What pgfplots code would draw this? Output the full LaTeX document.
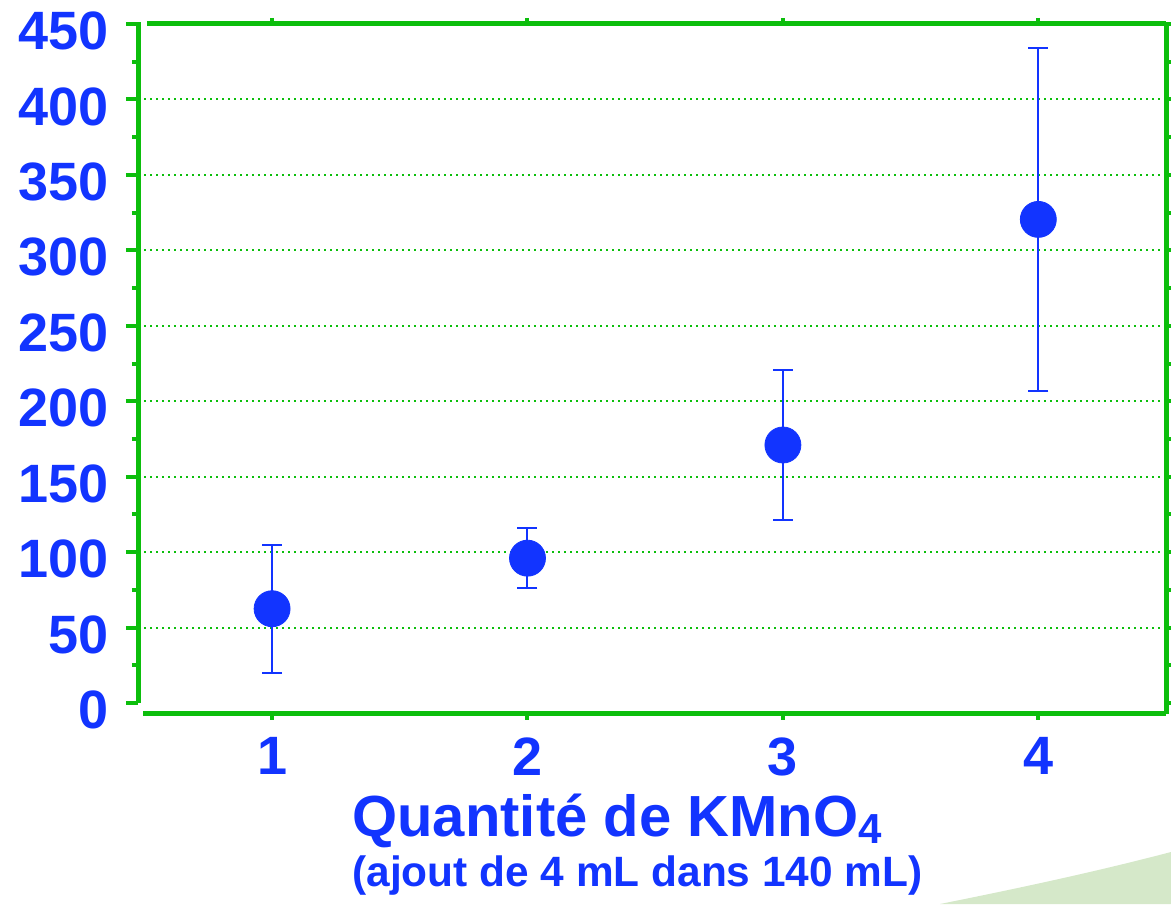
\documentclass[border=0pt]{standalone}
\usepackage{fontspec}
\setmainfont{Liberation Sans}
\usepackage{pgfplots}
\pgfplotsset{compat=1.18}
\usepackage{pgfplotstable}
\definecolor{mblue}{RGB}{18,52,255}
\definecolor{mgreen}{RGB}{12,190,12}
\definecolor{swoosh}{RGB}{213,232,201}
\pgfplotstableread{
x y e
1 62.5 42.5
2 96 20
3 171 49.5
4 320.5 113.5
}\datatable
\begin{document}
\begin{tikzpicture}
\useasboundingbox (0,0) rectangle (585.5pt,452pt);
\fill[swoosh] (470pt,0pt) .. controls (520pt,10pt) and (555pt,18pt) .. (585.5pt,26pt) -- (585.5pt,0pt) -- cycle;
\begin{axis}[
  at={(69pt,95.2pt)}, anchor=south west,
  scale only axis, width=514pt, height=344.8pt,
  xmin=0.475, xmax=4.5, ymin=-7, ymax=450,
  xtick={1,2,3,4}, ytick={0,50,...,450}, minor y tick num=1,
  tick align=outside, major tick length=6pt, minor tick length=3pt,
  xtick style={/pgfplots/major tick length=3pt},
  axis line style={draw=none},
  tick style={draw=mgreen, line width=2pt},
  /pgf/number format/assume math mode=true,
  ticklabel style={font=\fontsize{27}{27}\selectfont\bfseries, text=mblue},
  yticklabel style={yshift=-3.5pt, xshift=-5pt},
  xticklabel style={yshift=-2.5pt},
  clip=false,
]
\pgfplotsinvokeforeach{50,100,150,200,250,300,350,400}{
  \draw[mgreen, line width=1pt, dash pattern=on 1pt off 2pt] (axis cs:0.475,#1) -- (axis cs:4.5,#1);
}
\draw[mgreen, line width=2.5pt] (axis cs:0.475,0) -- (axis cs:0.475,451);
\draw[mgreen, line width=2.5pt] (axis cs:0.51,450) -- (axis cs:4.5,450);
\draw[mgreen, line width=2.5pt] (axis cs:4.5,-7) -- (axis cs:4.5,451);
\draw[mgreen, line width=2.5pt] (axis cs:0.495,-7) -- (axis cs:4.5,-7);
\addplot[only marks, mark=*, mark size=9pt, color=mblue,
  error bars/.cd, y dir=both, y explicit,
  error bar style={line width=1pt, mblue},
  error mark options={rotate=90, mark size=5pt, line width=1pt, mblue}]
  table[x=x, y=y, y error=e] {\datatable};
\end{axis}
\node[anchor=base west, text=mblue, font=\fontsize{29}{29}\selectfont\bfseries, inner sep=0pt] at (176pt,34pt) {Quantité de KMnO\raisebox{-3.5pt}{\fontsize{21}{21}\selectfont 4}};
\node[anchor=base west, text=mblue, font=\fontsize{21.2}{21.2}\selectfont\bfseries, inner sep=0pt] at (176pt,9pt) {(ajout de 4 mL dans 140 mL)};
\end{tikzpicture}
\end{document}
